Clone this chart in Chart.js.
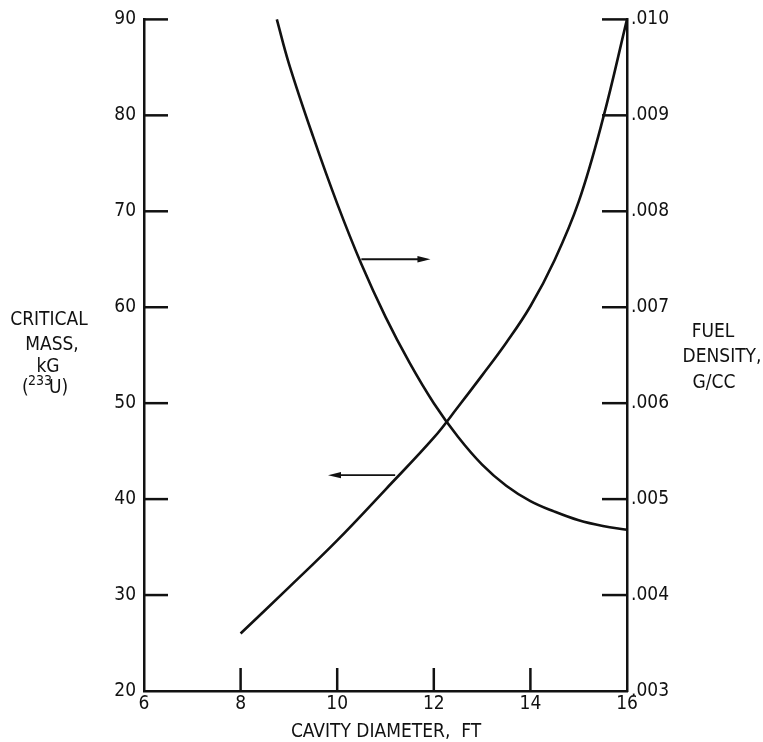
<!DOCTYPE html>
<html>
<head>
<meta charset="utf-8">
<script src="https://cdn.jsdelivr.net/npm/chart.js@4.4.0/dist/chart.umd.min.js"></script>
<style>
    html, body { margin: 0; padding: 0; background: #fff; }
    #wrap { width: 763px; height: 742px; }
</style>
</head>
<body>
<div id="wrap"><canvas id="chart" width="763" height="742"></canvas></div>
<script>
/* ---- DATA ---- */
// critical mass, kG (left axis)
const massDiameter = [8, 9, 10, 11, 12, 12.5, 13, 13.5, 14, 14.5, 15, 15.5, 16];
const massValues   = [26, 30.8, 35.7, 41, 46.4, 49.6, 52.9, 56.3, 60.1, 64.9, 71, 79.6, 90];

// fuel density, g/cc (right axis)
const densityDiameter = [8.75, 9, 9.5, 10, 10.5, 11, 11.5, 12, 12.5, 13, 13.5, 14, 14.5, 15, 15.5, 16];
const densityValues   = [0.01000, 0.00954, 0.00878, 0.00808, 0.00745, 0.00690, 0.00642, 0.00600,
                         0.00565, 0.00536, 0.00514, 0.00498, 0.00487, 0.00478, 0.00472, 0.00468];

const xTicks       = [6, 8, 10, 12, 14, 16];
const massTicks    = [20, 30, 40, 50, 60, 70, 80, 90];
const densityTicks = ['.003', '.004', '.005', '.006', '.007', '.008', '.009', '.010'];

// arrows: [xFrom, xTo, critical mass level]
const arrowToDensity = [10.5, 11.93, 65];
const arrowToMass    = [11.2, 9.81, 42.5];

const FONT = "'Liberation Sans Narrow', 'DejaVu Sans Condensed', 'Arial Narrow', sans-serif";
const INK = '#111';

/* ---- PLUGIN: inward ticks, arrows, side labels ---- */
const decorPlugin = {
    id: 'decor',
    afterDraw(chart) {
        const { ctx, chartArea: a, scales } = chart;
        const x = scales.x, y = scales.y, y1 = scales.y1;
        ctx.save();
        ctx.strokeStyle = INK;
        ctx.fillStyle = INK;
        ctx.lineWidth = 2.5;

        // inward tick marks
        massTicks.forEach(v => {
            if (v === 20) return;
            const py = y.getPixelForValue(v);
            ctx.beginPath(); ctx.moveTo(a.left, py); ctx.lineTo(a.left + 24, py); ctx.stroke();
        });
        densityTicks.forEach(t => {
            const v = parseFloat(t);
            if (v === 0.003) return;
            const py = y1.getPixelForValue(v);
            ctx.beginPath(); ctx.moveTo(a.right, py); ctx.lineTo(a.right - 25, py); ctx.stroke();
        });
        xTicks.forEach(v => {
            if (v === 6 || v === 16) return;
            const px = x.getPixelForValue(v);
            ctx.beginPath(); ctx.moveTo(px, a.bottom); ctx.lineTo(px, a.bottom - 23); ctx.stroke();
        });

        // arrows
        ctx.lineWidth = 1.8;
        [arrowToDensity, arrowToMass].forEach(([x0, x1, lvl]) => {
            const px0 = x.getPixelForValue(x0);
            const px1 = x.getPixelForValue(x1);
            const py = y.getPixelForValue(lvl);
            const dir = Math.sign(px1 - px0);
            ctx.beginPath(); ctx.moveTo(px0, py); ctx.lineTo(px1 - dir * 6, py); ctx.stroke();
            ctx.beginPath();
            ctx.moveTo(px1, py);
            ctx.lineTo(px1 - dir * 13, py - 3.2);
            ctx.lineTo(px1 - dir * 13, py + 3.2);
            ctx.closePath();
            ctx.fill();
        });

        // side labels
        ctx.font = '19px ' + FONT;
        ctx.textAlign = 'center';
        ctx.textBaseline = 'alphabetic';
        ctx.fillText('CRITICAL', 49, 325);
        ctx.fillText('MASS,', 52, 350);
        ctx.fillText('kG', 48, 372);
        // (233U)
        ctx.textAlign = 'left';
        ctx.fillText('(', 22, 393);
        ctx.font = '14px ' + FONT;
        ctx.fillText('233', 28, 385);
        ctx.font = '19px ' + FONT;
        ctx.fillText('U)', 49, 393);

        ctx.textAlign = 'center';
        ctx.fillText('FUEL', 713, 337);
        ctx.fillText('DENSITY,', 722, 362);
        ctx.fillText('G/CC', 714, 388);

        ctx.fillText('CAVITY DIAMETER,  FT', 386, 737);
        ctx.restore();
    }
};

/* ---- CHART ---- */
const tickFont = { family: FONT, size: 19 };

new Chart(document.getElementById('chart'), {
    type: 'line',
    data: {
        datasets: [
            {
                label: 'Critical mass',
                data: massDiameter.map((d, i) => ({ x: d, y: massValues[i] })),
                yAxisID: 'y',
                borderColor: INK,
                borderWidth: 2.6,
                pointRadius: 0,
                tension: 0.4,
                clip: 4
            },
            {
                label: 'Fuel density',
                data: densityDiameter.map((d, i) => ({ x: d, y: densityValues[i] })),
                yAxisID: 'y1',
                borderColor: INK,
                borderWidth: 2.6,
                pointRadius: 0,
                tension: 0.4,
                clip: 4
            }
        ]
    },
    options: {
        responsive: false,
        animation: false,
        layout: { padding: { top: 17, left: 0, right: 0, bottom: 0 } },
        plugins: {
            legend: { display: false },
            tooltip: { enabled: false }
        },
        scales: {
            x: {
                type: 'linear',
                min: 6, max: 16,
                afterFit: s => { s.height = 51; },
                afterBuildTicks: s => { s.ticks = xTicks.map(v => ({ value: v })); },
                ticks: { font: tickFont, color: INK, padding: 2, maxRotation: 0 },
                grid: { display: true, drawOnChartArea: false, drawTicks: false },
                border: { display: true, color: INK, width: 2.5 }
            },
            y: {
                type: 'linear',
                position: 'left',
                min: 20, max: 90,
                afterFit: s => { s.width = 144; },
                afterBuildTicks: s => { s.ticks = massTicks.map(v => ({ value: v })); },
                ticks: { font: tickFont, color: INK, padding: 8 },
                grid: { display: true, drawOnChartArea: false, drawTicks: false },
                border: { display: true, color: INK, width: 2.5 }
            },
            y1: {
                type: 'linear',
                position: 'right',
                min: 0.003, max: 0.010,
                afterFit: s => { s.width = 136; },
                afterBuildTicks: s => { s.ticks = densityTicks.map(t => ({ value: parseFloat(t) })); },
                ticks: {
                    font: tickFont, color: INK, padding: 4,
                    callback: (v, i) => densityTicks[i]
                },
                grid: { display: true, drawOnChartArea: false, drawTicks: false },
                border: { display: true, color: INK, width: 2.5 }
            }
        }
    },
    plugins: [decorPlugin]
});
</script>
</body>
</html>
